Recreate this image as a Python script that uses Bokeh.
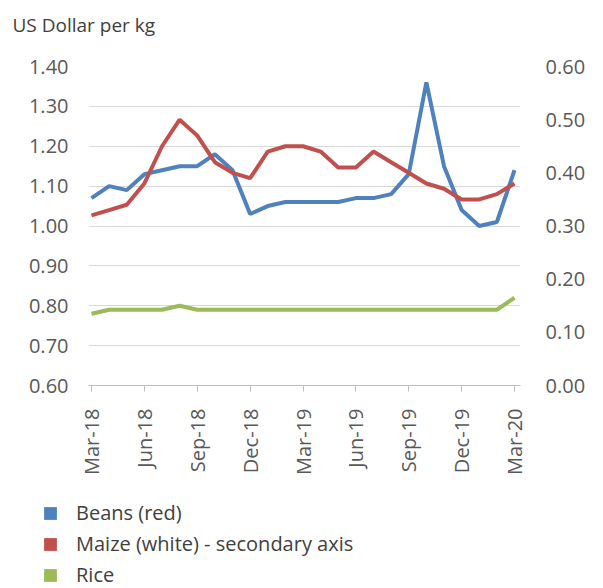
from bokeh.plotting import figure
from bokeh.models import (Range1d, LinearAxis, FixedTicker, Legend, LegendItem,
                          ColumnDataSource, NumeralTickFormatter, Label)
from bokeh.layouts import column
from bokeh.embed import file_html
from bokeh.resources import INLINE
import math

# ---- data ----
months = ["Mar-18", "Apr-18", "May-18", "Jun-18", "Jul-18", "Aug-18", "Sep-18",
          "Oct-18", "Nov-18", "Dec-18", "Jan-19", "Feb-19", "Mar-19", "Apr-19",
          "May-19", "Jun-19", "Jul-19", "Aug-19", "Sep-19", "Oct-19", "Nov-19",
          "Dec-19", "Jan-20", "Feb-20", "Mar-20"]
beans = [1.07, 1.10, 1.09, 1.13, 1.14, 1.15, 1.15, 1.18, 1.14, 1.03, 1.05, 1.06,
         1.06, 1.06, 1.06, 1.07, 1.07, 1.08, 1.13, 1.36, 1.15, 1.04, 1.00, 1.01, 1.14]
maize = [0.32, 0.33, 0.34, 0.38, 0.45, 0.50, 0.47, 0.42, 0.40, 0.39, 0.44, 0.45,
         0.45, 0.44, 0.41, 0.41, 0.44, 0.42, 0.40, 0.38, 0.37, 0.35, 0.35, 0.36, 0.38]
rice = [0.78, 0.79, 0.79, 0.79, 0.79, 0.80, 0.79, 0.79, 0.79, 0.79, 0.79, 0.79,
        0.79, 0.79, 0.79, 0.79, 0.79, 0.79, 0.79, 0.79, 0.79, 0.79, 0.79, 0.79, 0.82]
left_ticks = [0.60, 0.70, 0.80, 0.90, 1.00, 1.10, 1.20, 1.30, 1.40]
right_ticks = [0.00, 0.10, 0.20, 0.30, 0.40, 0.50, 0.60]
x_tick_labels = ["Mar-18", "Jun-18", "Sep-18", "Dec-18", "Mar-19", "Jun-19",
                 "Sep-19", "Dec-19", "Mar-20"]
series_names = ["Beans (red)", "Maize (white) - secondary axis", "Rice"]
colors = ["#4F81BD", "#C0504D", "#9BBB59"]
title_text = "US Dollar per kg"

FONT = "Open Sans"
TICK_COLOR = "#595959"
TEXT_COLOR = "#404040"


def no_align(fig):
    try:
        fig.frame_align = False
    except AttributeError:
        pass


def blank_figure(h):
    f = figure(width=603, height=h, output_backend="svg", toolbar_location=None,
               x_range=Range1d(0, 1), y_range=Range1d(0, 1),
               x_axis_type=None, y_axis_type=None,
               min_border_left=0, min_border_right=0, min_border_top=0,
               min_border_bottom=0)
    f.outline_line_color = None
    f.grid.grid_line_color = None
    f.background_fill_color = "white"
    f.border_fill_color = "white"
    no_align(f)
    return f


# ---- title strip ----
H0 = 44
p0 = blank_figure(H0)
p0.add_layout(Label(x=12, y=H0 - 24, x_units="screen", y_units="screen",
                    text=title_text, text_font=FONT, text_font_size="19px",
                    text_color=TEXT_COLOR, text_baseline="middle",
                    text_align="left"))

# ---- main chart ----
x = list(range(len(months)))
src = ColumnDataSource(dict(x=x, beans=beans, maize=maize, rice=rice))

p = figure(width=603, height=480 - H0, output_backend="svg", toolbar_location=None,
           x_range=Range1d(-0.17, 24.34), y_range=Range1d(0.60, 1.40),
           min_border_left=88, min_border_right=83, min_border_top=66 - H0,
           min_border_bottom=95)
p.outline_line_color = None
p.background_fill_color = "white"
p.border_fill_color = "white"
no_align(p)

p.extra_y_ranges = {"maize": Range1d(0.0, 0.60)}

ya = p.yaxis[0]
ya.ticker = FixedTicker(ticks=left_ticks)
ya.formatter = NumeralTickFormatter(format="0.00")
ya.axis_line_color = None
ya.major_tick_line_color = None
ya.minor_tick_line_color = None
ya.major_label_text_font = FONT
ya.major_label_text_font_size = "20px"
ya.major_label_text_color = TICK_COLOR
ya.major_label_standoff = 14

ra = LinearAxis(y_range_name="maize", ticker=FixedTicker(ticks=right_ticks),
                formatter=NumeralTickFormatter(format="0.00"))
ra.axis_line_color = None
ra.major_tick_line_color = None
ra.minor_tick_line_color = None
ra.major_label_text_font = FONT
ra.major_label_text_font_size = "20px"
ra.major_label_text_color = TICK_COLOR
ra.major_label_standoff = 19
p.add_layout(ra, "right")

xa = p.xaxis[0]
tick_pos = [months.index(m) for m in x_tick_labels]
xa.ticker = FixedTicker(ticks=tick_pos)
xa.major_label_overrides = {i: months[i] for i in tick_pos}
xa.major_label_orientation = math.pi / 2
xa.axis_line_color = "#bfbfbf"
xa.major_tick_line_color = "#bfbfbf"
xa.major_tick_in = 0
xa.major_tick_out = 6
xa.minor_tick_line_color = None
xa.major_label_text_font = FONT
xa.major_label_text_font_size = "20px"
xa.major_label_text_color = TICK_COLOR
xa.major_label_standoff = 17

p.xgrid.grid_line_color = None
p.ygrid.grid_line_color = "#d9d9d9"
p.ygrid.grid_line_width = 1
p.ygrid.ticker = FixedTicker(ticks=left_ticks)

p.line("x", "beans", source=src, line_color=colors[0], line_width=4)
p.line("x", "rice", source=src, line_color=colors[2], line_width=4)
p.line("x", "maize", source=src, line_color=colors[1], line_width=4,
       y_range_name="maize")

# ---- legend strip ----
nan = float("nan")
p2 = blank_figure(108)
items = []
for name, c in zip(series_names, colors):
    r = p2.quad(left=[nan], right=[nan], top=[nan], bottom=[nan],
                fill_color=c, line_color=None)
    items.append(LegendItem(label=name, renderers=[r]))

legend = Legend(items=items, orientation="vertical", location=(42, 0),
                glyph_width=16, glyph_height=16, label_height=20, spacing=4,
                label_standoff=18, padding=0, margin=0,
                border_line_color=None, background_fill_alpha=0,
                label_text_font=FONT, label_text_font_size="20px",
                label_text_color=TEXT_COLOR)
p2.add_layout(legend, "center")

layout = column(p0, p, p2, spacing=0)
open("out.html", "w").write(file_html(layout, INLINE))
